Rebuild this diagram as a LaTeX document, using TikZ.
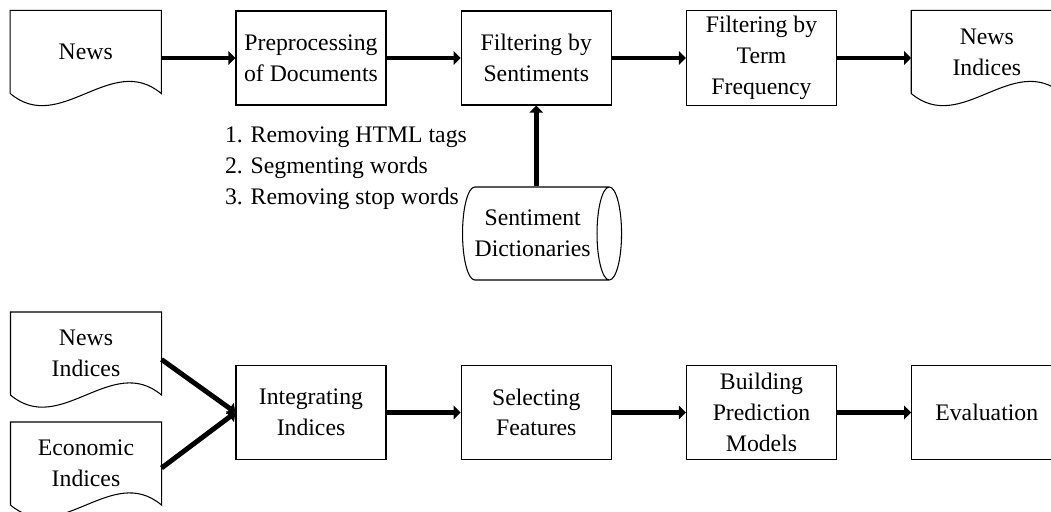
\documentclass[tikz,border=0pt]{standalone}
\usepackage{fontspec}
\setmainfont{Liberation Serif}
\usetikzlibrary{shapes.geometric,arrows.meta,positioning,calc}
\tikzset{basic/.style={font=\fontsize{13.5}{17.5}\selectfont,align=center,line width=0.6pt}}
\tikzset{proc/.style={basic,rectangle,draw,minimum width=3cm,minimum height=1.88cm}}
\tikzset{doc/.style={basic,rectangle,minimum width=3cm,minimum height=1.64cm}}
\tikzset{store/.style={basic,cylinder,draw,aspect=0.42,minimum height=3.14cm,minimum width=1.86cm}}
\tikzset{steps/.style={basic,align=left,inner sep=0pt}}
\tikzset{flow/.style={draw,line width=2.8pt,-{Triangle[length=4pt,width=7.5pt]}}}

\begin{document}
\begin{tikzpicture}[node distance=4.505cm]
    \useasboundingbox (0,0) rectangle (21.02,-10.22);

    % first stage: building the news indices
    \node[proc] at (6.22,-1.16) (prep) {Preprocessing\\of Documents};
    \node[doc,left of=prep,yshift=0.12cm] (news) {News};
    \node[proc,right of=prep] (sent) {Filtering by\\Sentiments};
    \node[proc,right of=sent] (freq) {Filtering by\\Term\\Frequency};
    \node[doc,right of=freq,yshift=0.12cm] (idx) {News\\Indices};
    \node[store,anchor=west] at (9.24,-4.67) (dict) {Sentiment\\Dictionaries};
    \node[steps,anchor=north west] at ($(prep.south west)+(-0.22,-0.42)$) (list)
        {1. Removing HTML tags\\2. Segmenting words\\3. Removing stop words};

    % second stage: prediction
    \node[proc] at (6.22,-8.25) (integ) {Integrating\\Indices};
    \node[doc] at (1.72,-7.07) (newsidx) {News\\Indices};
    \node[doc] at (1.72,-9.27) (econidx) {Economic\\Indices};
    \node[proc,right of=integ] (select) {Selecting\\Features};
    \node[proc,right of=select] (build) {Building\\Prediction\\Models};
    \node[proc,right of=build] (eval) {Evaluation};

    % document outlines with wavy bottom
    \foreach \d in {news,idx,newsidx,econidx}
        \draw[line width=0.6pt] (\d.south west) -- (\d.north west) -- (\d.north east) -- (\d.south east)
            .. controls +(-1,0.84) and +(1,-0.84) .. (\d.south west);

    \path[flow] (news.east |- prep) -- (prep);
    \path[flow] (prep) -- (sent);
    \path[flow] (sent) -- (freq);
    \path[flow] (freq) -- (freq -| idx.west);
    \path[flow] (sent |- dict.north) -- (sent);

    \path[flow] ([yshift=-0.12cm]newsidx.east) -- (integ.west);
    \path[flow] ([yshift=-0.09cm]econidx.east) -- (integ.west);
    \path[flow] (integ) -- (select);
    \path[flow] (select) -- (build);
    \path[flow] (build) -- (eval);
\end{tikzpicture}
\end{document}
